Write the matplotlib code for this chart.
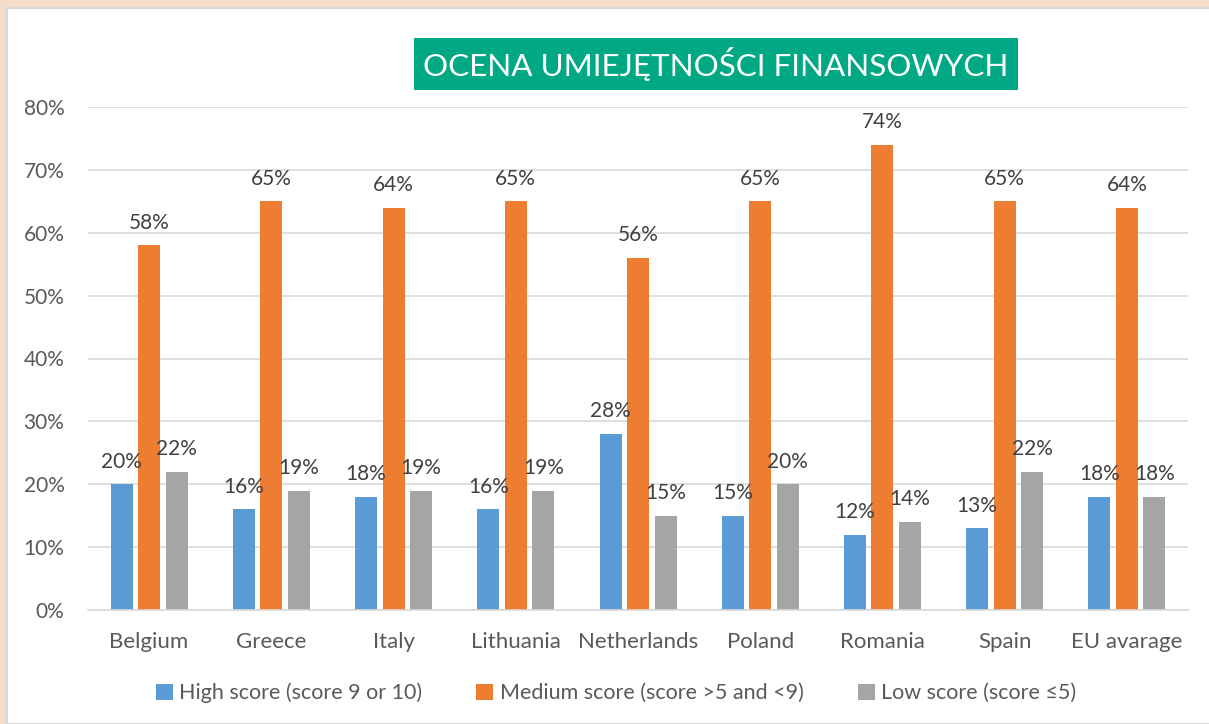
import numpy as np
import matplotlib.pyplot as plt
from matplotlib.patches import Rectangle

countries = ['Belgium', 'Greece', 'Italy', 'Lithuania', 'Netherlands',
             'Poland', 'Romania', 'Spain', 'EU avarage']
high = [20, 16, 18, 16, 28, 15, 12, 13, 18]
medium = [58, 65, 64, 65, 56, 65, 74, 65, 64]
low = [22, 19, 19, 19, 15, 20, 14, 22, 18]
series_names = ['High score (score 9 or 10)',
                'Medium score (score >5 and <9)',
                'Low score (score \u22645)']
colors = ['#5B9BD5', '#ED7D31', '#A5A5A5']
title = 'OCENA UMIEJĘTNOŚCI FINANSOWYCH'

plt.rcParams['font.family'] = ['Lato', 'DejaVu Sans']
txt = '#595959'
fs = 15

fig = plt.figure(figsize=(12.09, 7.24), dpi=100)
fig.patch.set_facecolor('#f4ddca')
# white chart card behind everything
fig.patches.append(Rectangle((7/1209, 0), 1.0, 1 - 8/724, transform=fig.transFigure,
                             facecolor='white', edgecolor='#d9d9d9', lw=1.5, zorder=-5))

ax = fig.add_axes([88/1209, 1 - 610/724, 1100/1209, 503/724])
ax.set_facecolor('none')
x = np.arange(len(countries))
w = 0.18
off = 0.225
for i, (vals, c, name) in enumerate(zip([high, medium, low], colors, series_names)):
    bars = ax.bar(x + (i - 1) * off, vals, w, color=c, label=name, zorder=2)
    for b, v in zip(bars, vals):
        ax.text(b.get_x() + b.get_width() / 2, v + 2.0, '%d%%' % v,
                ha='center', va='bottom', fontsize=fs, color='#404040')

ax.set_xlim(-0.5, len(countries) - 0.5)
ax.set_ylim(0, 80)
ax.set_yticks(range(0, 81, 10))
ax.set_yticklabels(['%d%%' % t for t in range(0, 81, 10)])
ax.set_xticks(x)
ax.set_xticklabels(countries)
ax.tick_params(length=0, labelsize=fs, colors=txt)
ax.tick_params(axis='x', pad=16, labelsize=16)
ax.tick_params(axis='y', pad=17)
ax.grid(axis='y', color='#d9d9d9', lw=1.2, zorder=0)
for s in ['top', 'right', 'left']:
    ax.spines[s].set_visible(False)
ax.spines['bottom'].set_color('#d9d9d9')
ax.spines['bottom'].set_linewidth(1.2)

fig.text(716/1209, 1 - 64/724, title, ha='center', va='center', fontsize=22.6,
         color='white',
         bbox=dict(boxstyle='square,pad=0.3', facecolor='#00A884', edgecolor='none'))

fig.legend(loc='center', bbox_to_anchor=(616/1209, 1 - 693/724), ncol=3,
           frameon=False, fontsize=15.5, handlelength=0.8, handleheight=0.8,
           handletextpad=0.3, columnspacing=2.5, labelcolor=txt)

fig.savefig('out.png', dpi=100)
